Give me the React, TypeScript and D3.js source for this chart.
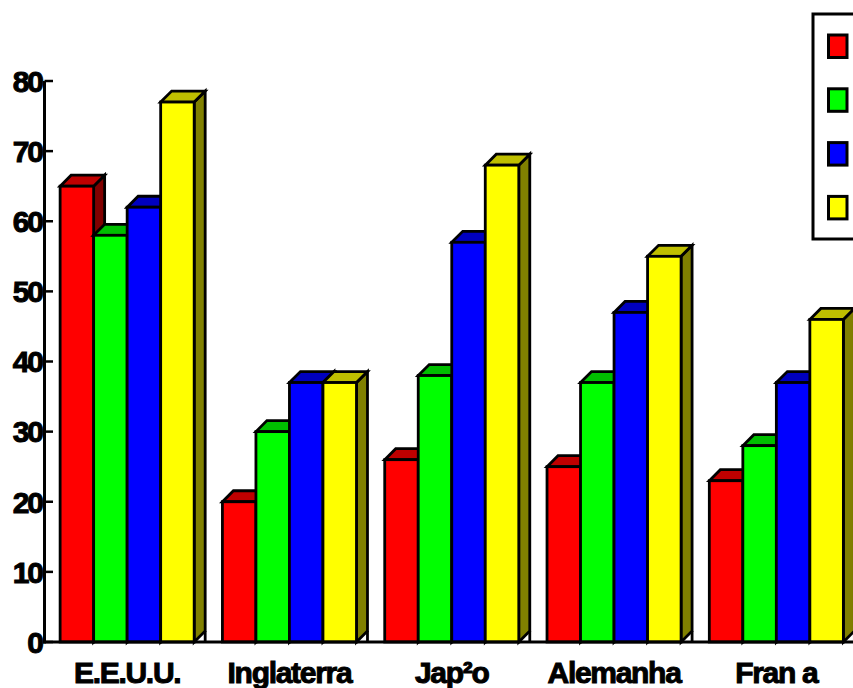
import React from "react";
import * as d3 from "d3";

const categories = ["E.E.U.U.", "Inglaterra", "Jap²o", "Alemanha", "Fran a"];
const seriesNames = ["Série 1", "Série 2", "Série 3", "Série 4"];
const seriesColors = ["#ff0000", "#00ff00", "#0000ff", "#ffff00"];
const s1 = [65, 20, 26, 25, 23];
const s2 = [58, 30, 38, 37, 28];
const s3 = [62, 37, 57, 47, 37];
const s4 = [77, 37, 68, 55, 46];
const seriesValues = [s1, s2, s3, s4];
const yTicks = [0, 10, 20, 30, 40, 50, 60, 70, 80];

const W = 853;
const H = 688;
const DEPTH = 11;

function shade(c: string, k: number) {
  const col = d3.rgb(c);
  return d3.rgb(col.r * k, col.g * k, col.b * k).formatHex();
}

export default function App() {
  const x = d3.scaleBand<string>().domain(categories).range([46, 857.5]).paddingInner(0.174).paddingOuter(0.087);
  const xs = d3.scaleBand<number>().domain(seriesNames.map((_, i) => i)).range([0, x.bandwidth()]).padding(0);
  const y = d3.scaleLinear().domain([0, 80]).range([642, 81]);
  const y0 = y(0);
  const font = "'Liberation Sans', Arial, sans-serif";

  const bars: React.ReactNode[] = [];
  categories.forEach((cat, ci) => {
    seriesValues.forEach((vals, si) => {
      const x0 = (x(cat) as number) + (xs(si) as number);
      const x1 = x0 + xs.bandwidth();
      const yt = y(vals[ci]);
      const c = seriesColors[si];
      const d = DEPTH;
      bars.push(
        <g key={`${ci}-${si}`} stroke="#000" strokeWidth={2.8} strokeLinejoin="miter">
          <line x1={x1 + d} y1={y0 - d} x2={x1 + d} y2={y0} />
          <polygon
            points={`${x1},${y0} ${x1 + d},${y0 - d} ${x1 + d},${yt - d} ${x1},${yt}`}
            fill={shade(c, 0.5)}
          />
          <polygon
            points={`${x0},${yt} ${x0 + d},${yt - d} ${x1 + d},${yt - d} ${x1},${yt}`}
            fill={shade(c, 0.75)}
          />
          <rect x={x0} y={yt} width={x1 - x0} height={y0 - yt} fill={c} />
        </g>
      );
    });
  });

  return (
    <svg
      width={W}
      height={H}
      style={{ position: "fixed", left: 0, top: 0, background: "#fff" }}
      fontFamily={font}
    >
      <rect x={0} y={0} width={W} height={H} fill="#fff" />
      {bars}
      {/* axes */}
      <line x1={44.5} y1={y(80)} x2={44.5} y2={y0 + 1.5} stroke="#000" strokeWidth={3} />
      <line x1={43} y1={y0} x2={W} y2={y0} stroke="#000" strokeWidth={3} />
      {yTicks.map((t) => (
        <g key={t}>
          <line x1={44.5} y1={y(t)} x2={53} y2={y(t)} stroke="#000" strokeWidth={2.5} />
          <text
            x={42}
            y={y(t)}
            dy="0.36em"
            textAnchor="end"
            fontSize={30}
            fontWeight="bold"
            letterSpacing={-2}
            fill="#000"
            stroke="#000"
            strokeWidth={1}
          >
            {t}
          </text>
        </g>
      ))}
      {categories.map((cat) => (
        <text
          key={cat}
          x={(x(cat) as number) + x.bandwidth() / 2}
          y={683}
          textAnchor="middle"
          fontSize={30}
          fontWeight="bold"
          letterSpacing={-1.3}
          fill="#000"
          stroke="#000"
          strokeWidth={1}
        >
          {cat}
        </text>
      ))}
      {/* legend */}
      <rect x={813} y={14} width={80} height={225} fill="#fff" stroke="#000" strokeWidth={3} />
      {seriesNames.map((s, i) => (
        <rect
          key={s}
          x={828.5}
          y={35 + i * 53.8}
          width={18.5}
          height={22.5}
          fill={seriesColors[i]}
          stroke="#000"
          strokeWidth={3}
        />
      ))}
    </svg>
  );
}
